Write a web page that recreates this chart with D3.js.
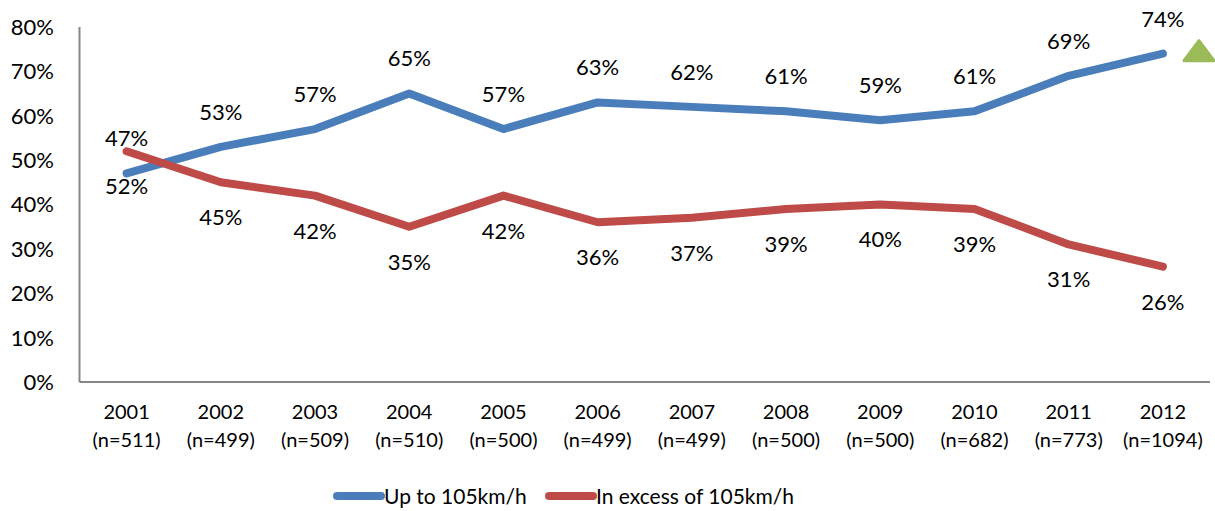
<!DOCTYPE html>
<html>
<head>
<meta charset="utf-8">
<script src="https://cdn.jsdelivr.net/npm/d3@7"></script>
<style>
  body { margin: 0; background: #fff; }
  svg { display: block; font-family: Lato, "Open Sans", sans-serif; }
</style>
</head>
<body>
<svg></svg>
<script>
// Chart data
const years = ["2001", "2002", "2003", "2004", "2005", "2006", "2007", "2008", "2009", "2010", "2011", "2012"];
const sampleSizes = ["(n=511)", "(n=499)", "(n=509)", "(n=510)", "(n=500)", "(n=499)", "(n=499)", "(n=500)", "(n=500)", "(n=682)", "(n=773)", "(n=1094)"];
const upTo105 = [47, 53, 57, 65, 57, 63, 62, 61, 59, 61, 69, 74];
const over105 = [52, 45, 42, 35, 42, 36, 37, 39, 40, 39, 31, 26];
// labels as printed in the source chart (2001 labels are swapped there)
const upTo105Labels = [47, 53, 57, 65, 57, 63, 62, 61, 59, 61, 69, 74];
const over105Labels = [52, 45, 42, 35, 42, 36, 37, 39, 40, 39, 31, 26];
const yTicks = [0, 10, 20, 30, 40, 50, 60, 70, 80];
const seriesNames = ["Up to 105km/h", "In excess of 105km/h"];

const width = 1215, height = 511;
const svg = d3.select("svg")
    .attr("width", width)
    .attr("height", height);

const plotLeft = 79.5, plotRight = 1210, plotTop = 27, plotBottom = 382;

const x = d3.scalePoint()
    .domain(years)
    .range([plotLeft, plotRight])
    .padding(0.5);

const y = d3.scaleLinear()
    .domain([0, 80])
    .range([plotBottom, plotTop]);

// Axes lines
svg.append("line")
    .attr("x1", plotLeft).attr("x2", plotLeft)
    .attr("y1", plotTop).attr("y2", plotBottom)
    .attr("stroke", "#868686").attr("stroke-width", 2);
svg.append("line")
    .attr("x1", plotLeft).attr("x2", plotRight)
    .attr("y1", plotBottom).attr("y2", plotBottom)
    .attr("stroke", "#868686").attr("stroke-width", 2);

// Y tick labels
svg.selectAll(".ytick")
    .data(yTicks)
    .enter()
    .append("text")
    .attr("x", 54)
    .attr("y", d => y(d))
    .attr("dy", "0.36em")
    .attr("text-anchor", "end")
    .attr("font-size", 22)
    .attr("fill", "#000")
    .text(d => d + "%");

// X tick labels
const xl = svg.selectAll(".xtick")
    .data(years)
    .enter()
    .append("text")
    .attr("text-anchor", "middle")
    .attr("font-size", 20)
    .attr("fill", "#000");
xl.append("tspan")
    .attr("x", d => x(d))
    .attr("y", 419)
    .text(d => d);
xl.append("tspan")
    .attr("x", d => x(d))
    .attr("y", 447)
    .text((d, i) => sampleSizes[i]);

// Lines
const line = d3.line()
    .x((d, i) => x(years[i]))
    .y(d => y(d));

const series = [
    { values: upTo105, labels: upTo105Labels, color: "#4A7EBB", offset: -35 },
    { values: over105, labels: over105Labels, color: "#BE4B48", offset: 35 }
];

series.forEach(s => {
    svg.append("path")
        .datum(s.values)
        .attr("d", line)
        .attr("fill", "none")
        .attr("stroke", s.color)
        .attr("stroke-width", 8)
        .attr("stroke-linejoin", "round")
        .attr("stroke-linecap", "round");
});

// Data labels
series.forEach(s => {
    svg.selectAll(null)
        .data(s.values)
        .enter()
        .append("text")
        .attr("x", (d, i) => x(years[i]))
        .attr("y", d => y(d) + s.offset)
        .attr("dy", "0.36em")
        .attr("text-anchor", "middle")
        .attr("font-size", 22)
        .attr("fill", "#000")
        .text((d, i) => s.labels[i] + "%");
});

// Green trend triangle
const tx = 1199, ty = y(74) - 3;
svg.append("path")
    .attr("d", `M${tx - 15},${ty + 10} L${tx},${ty - 10} L${tx + 15},${ty + 10} Z`)
    .attr("fill", "#9BBB59")
    .attr("stroke", "#9BBB59")
    .attr("stroke-width", 3)
    .attr("stroke-linejoin", "round");

// Legend
const legend = [
    { name: seriesNames[0], color: "#4A7EBB", x: 337 },
    { name: seriesNames[1], color: "#BE4B48", x: 549 }
];
legend.forEach(l => {
    svg.append("line")
        .attr("x1", l.x).attr("x2", l.x + 44)
        .attr("y1", 496).attr("y2", 496)
        .attr("stroke", l.color)
        .attr("stroke-width", 8)
        .attr("stroke-linecap", "round");
    svg.append("text")
        .attr("x", l.x + 47)
        .attr("y", 496)
        .attr("dy", "0.36em")
        .attr("font-size", 21)
        .attr("fill", "#000")
        .text(l.name);
});
</script>
</body>
</html>
